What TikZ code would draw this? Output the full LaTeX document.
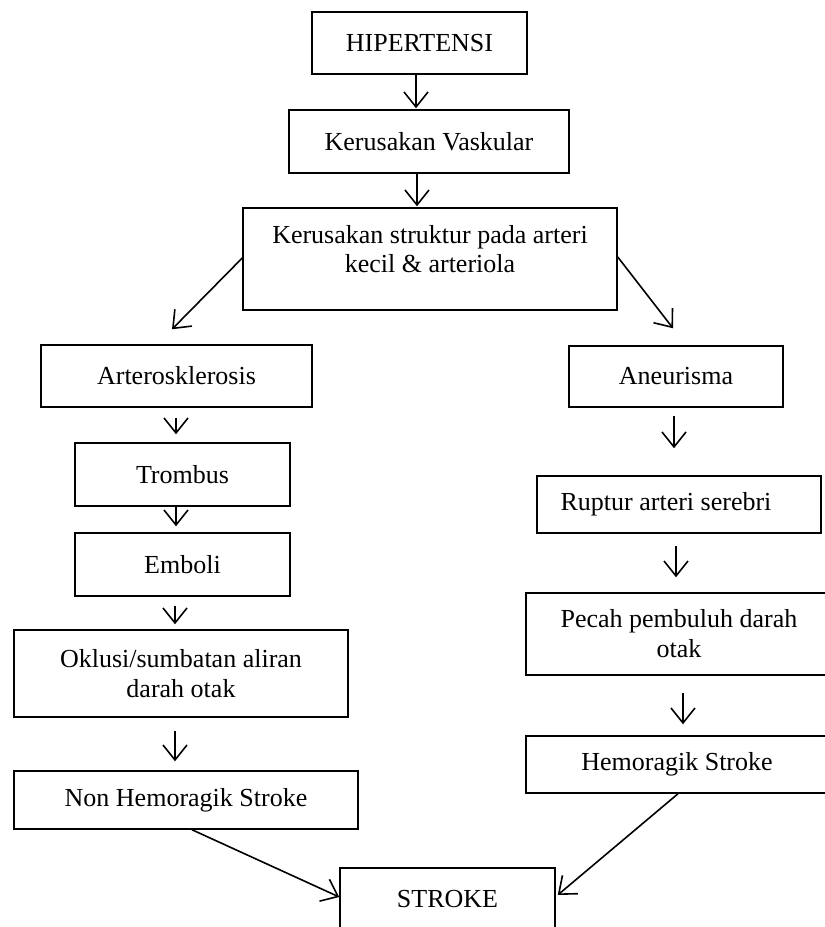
\documentclass[tikz,border=0pt]{standalone}
\usepackage{fontspec}
\setmainfont{Liberation Serif}
\usetikzlibrary{arrows.meta,calc}
\begin{document}
\begin{tikzpicture}[x=1pt,y=-1pt,
  box/.style={draw,line width=1.5pt,rectangle,inner sep=0pt,anchor=center},
  arr/.style={line width=1.6pt,-{Straight Barb[length=15pt,width=24pt,line width=1.6pt]}},
  font=\fontsize{26pt}{30pt}\selectfont]
\useasboundingbox (0,0) rectangle (825,927);
\fill[white] (0,0) rectangle (825,927);
\node[box,minimum width=215pt,minimum height=62pt] (hip) at (419.5,43) {HIPERTENSI};
\node[box,minimum width=280pt,minimum height=63pt] (kv) at (429,141.5) {Kerusakan Vaskular};
\node[box,minimum width=374pt,minimum height=102pt] (ks) at (430,259)
  {\raisebox{7pt}[\height][\depth]{\begin{tabular}{@{}c@{}}Kerusakan struktur pada arteri\\[-1pt] kecil \& arteriola\end{tabular}}};
\node[box,minimum width=271pt,minimum height=62pt] (art) at (176.5,376) {Arterosklerosis};
\node[box,minimum width=214pt,minimum height=61pt] (aneu) at (676,376.5) {Aneurisma};
\node[box,minimum width=215pt,minimum height=63pt] (trom) at (182.5,474.5) {Trombus};
\node[box,minimum width=215pt,minimum height=63pt] (emb) at (182.5,564.5) {Emboli};
\node[box,minimum width=334pt,minimum height=87pt,align=center] (okl) at (181,673.5) {Oklusi/sumbatan aliran\\ darah otak};
\node[box,minimum width=344pt,minimum height=58pt] (nhs) at (186,800) {Non Hemoragik Stroke};
\node[box,minimum width=284pt,minimum height=57pt] (rup) at (679,504.5) {Ruptur arteri serebri\hspace*{26pt}};
\node[box,minimum width=306pt,minimum height=82pt,align=center] (pec) at (679,634) {Pecah pembuluh darah\\ otak};
\node[box,minimum width=302pt,minimum height=57pt] (hs) at (677,764.5) {Hemoragik Stroke};
\node[box,minimum width=215pt,minimum height=62pt] (str) at (447.5,899) {STROKE};
% vertical arrows
\draw[arr,shorten >=1pt] ([xshift=-3.5pt]hip.south) -- ([xshift=-3.5pt]hip.south |- kv.north);
\draw[arr,shorten >=1pt] ([xshift=-12pt]kv.south) -- ([xshift=-12pt]kv.south |- ks.north);
\draw[arr,shorten <=10pt,shorten >=8pt] ([xshift=-0.5pt]art.south) -- ([xshift=-0.5pt]art.south |- trom.north);
\draw[arr,shorten >=6pt] ([xshift=-6.5pt]trom.south) -- ([xshift=-6.5pt]trom.south |- emb.north);
\draw[arr,shorten <=9pt,shorten >=5pt] ([xshift=-7.5pt]emb.south) -- ([xshift=-7.5pt]emb.south |- okl.north);
\draw[arr,shorten <=13pt,shorten >=9pt] ([xshift=-6pt]okl.south) -- ([xshift=-6pt]okl.south |- nhs.north);
\draw[arr,shorten <=8pt,shorten >=27pt] ([xshift=-2pt]aneu.south) -- ([xshift=-2pt]aneu.south |- rup.north);
\draw[arr,shorten <=12pt,shorten >=15pt] ([xshift=-3pt]rup.south) -- ([xshift=-3pt]rup.south |- pec.north);
\draw[arr,shorten <=17pt,shorten >=11pt] ([xshift=4pt]pec.south) -- ([xshift=4pt]pec.south |- hs.north);
% diagonal arrows
\draw[arr] ([yshift=1pt]ks.west) -- ([xshift=-4.5pt,yshift=15pt]art.north);
\draw[arr] ([yshift=2pt]ks.east) -- ([xshift=-3pt,yshift=17pt]aneu.north);
\draw[arr] ([xshift=6pt]nhs.south) -- ([yshift=2pt]str.west);
\draw[arr] ([xshift=1pt]hs.south) -- ([xshift=2pt,yshift=4pt]str.east);
\end{tikzpicture}
\end{document}
